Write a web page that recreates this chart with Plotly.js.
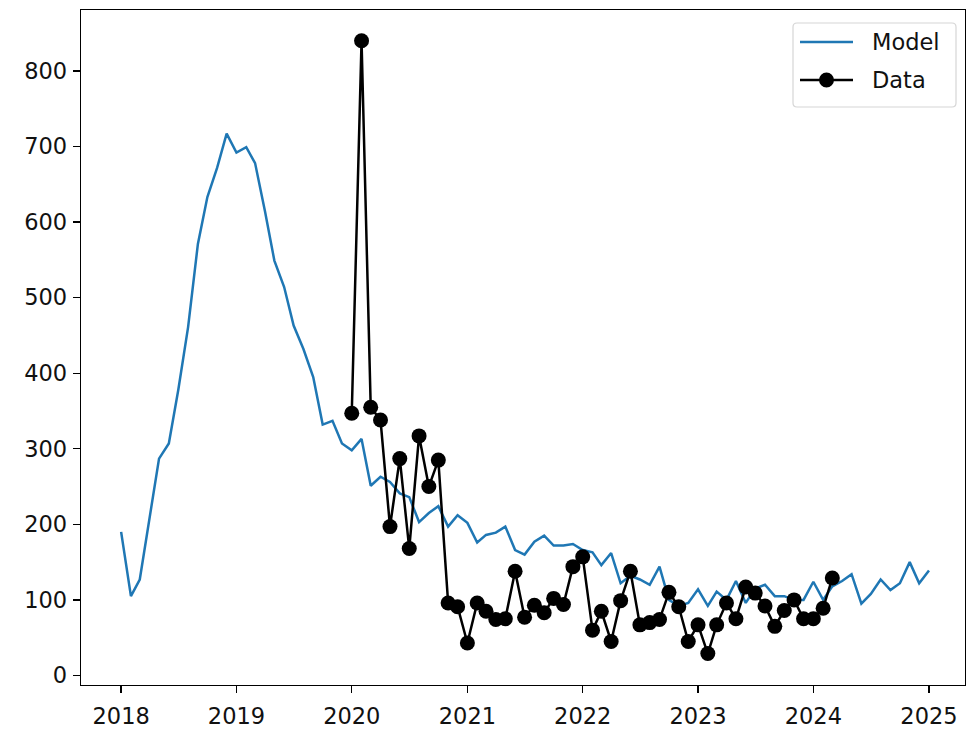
<!DOCTYPE html>
<html>
<head>
<meta charset="utf-8">
<script src="https://cdn.plot.ly/plotly-3.0.1.min.js"></script>
<style>
  html, body { margin: 0; padding: 0; background: #fff; }
  #chart { width: 966px; height: 735px; }
</style>
</head>
<body>
<div id="chart"></div>
<script>
// Monthly model output, starting January 2018
const modelStart = [2018, 1];
const modelValues = [
  190, 105, 127, 207, 287, 307, 378, 461, 571, 633, 672, 717,
  692, 699, 678, 615, 549, 514, 463, 432, 395, 332, 337, 307,
  298, 313, 251, 263, 256, 241, 236, 203, 215, 224, 197, 212,
  202, 176, 186, 189, 197, 166, 160, 177, 185, 172, 172, 174,
  166, 163, 146, 162, 122, 132, 127, 120, 144, 100, 92, 96,
  114, 92, 111, 100, 125, 96, 115, 120, 105, 105, 100, 100,
  124, 100, 118, 125, 134, 95, 108, 127, 113, 122, 150, 122,
  139
];

// Monthly observations, starting January 2020
const dataStart = [2020, 1];
const dataValues = [
  347, 840, 355, 338, 197, 287, 168, 317, 250, 285, 96, 91,
  43, 96, 85, 74, 75, 138, 77, 93, 83, 102, 94, 144,
  157, 60, 85, 45, 99, 138, 67, 70, 74, 110, 91, 45,
  67, 29, 67, 96, 75, 117, 109, 92, 65, 86, 100, 75,
  75, 89, 129
];

const yearTicks = ['2018', '2019', '2020', '2021', '2022', '2023', '2024', '2025'];
const yTicks = [0, 100, 200, 300, 400, 500, 600, 700, 800];
const seriesNames = ['Model', 'Data'];

function monthDates(start, n) {
  const out = [];
  for (let i = 0; i < n; i++) {
    const m = start[1] - 1 + i;
    const y = start[0] + Math.floor(m / 12);
    const mm = (m % 12) + 1;
    out.push(y + '-' + String(mm).padStart(2, '0') + '-01');
  }
  return out;
}

const W = 966, H = 735;
const M = { l: 81, r: 1, t: 10, b: 50 };
const plotW = W - M.l - M.r, plotH = H - M.t - M.b;
const px = x => (x - M.l) / plotW;          // page x -> paper x
const py = y => (H - M.b - y) / plotH;      // page y -> paper y

const FONT = 'DejaVu Sans, sans-serif';
const BLUE = '#1f77b4';

const traces = [
  {
    x: monthDates(modelStart, modelValues.length),
    y: modelValues,
    name: seriesNames[0],
    type: 'scatter',
    mode: 'lines',
    line: { color: BLUE, width: 2.5 },
    hoverinfo: 'skip'
  },
  {
    x: monthDates(dataStart, dataValues.length),
    y: dataValues,
    name: seriesNames[1],
    type: 'scatter',
    mode: 'lines+markers',
    line: { color: '#000', width: 2.5 },
    marker: { color: '#000', size: 15 },
    hoverinfo: 'skip'
  }
];

// Legend box drawn with a rounded frame, sample lines and labels
function roundedRect(x0, y0, x1, y1, r) {
  const X0 = px(x0), X1 = px(x1), Y0 = py(y0), Y1 = py(y1);
  const rx = r / plotW, ry = r / plotH;
  return 'M ' + (X0 + rx) + ' ' + Y0 +
    ' L ' + (X1 - rx) + ' ' + Y0 + ' Q ' + X1 + ' ' + Y0 + ' ' + X1 + ' ' + (Y0 - ry) +
    ' L ' + X1 + ' ' + (Y1 + ry) + ' Q ' + X1 + ' ' + Y1 + ' ' + (X1 - rx) + ' ' + Y1 +
    ' L ' + (X0 + rx) + ' ' + Y1 + ' Q ' + X0 + ' ' + Y1 + ' ' + X0 + ' ' + (Y1 + ry) +
    ' L ' + X0 + ' ' + (Y0 - ry) + ' Q ' + X0 + ' ' + Y0 + ' ' + (X0 + rx) + ' ' + Y0 + ' Z';
}

const legendRows = [
  { y: 42, color: BLUE, marker: false, label: seriesNames[0] },
  { y: 80, color: '#000', marker: true, label: seriesNames[1] }
];

const shapes = [
  {
    type: 'path', xref: 'paper', yref: 'paper',
    path: roundedRect(793, 23, 956, 107, 4),
    line: { color: '#d6d6d6', width: 1.2 },
    fillcolor: 'rgba(255,255,255,0.85)'
  }
];
const annotations = [];
legendRows.forEach(row => {
  shapes.push({
    type: 'line', xref: 'paper', yref: 'paper',
    x0: px(800), x1: px(853), y0: py(row.y), y1: py(row.y),
    line: { color: row.color, width: 2.5 }
  });
  if (row.marker) {
    shapes.push({
      type: 'circle', xref: 'paper', yref: 'paper',
      x0: px(819), x1: px(834), y0: py(row.y - 7.5), y1: py(row.y + 7.5),
      line: { color: '#000', width: 0 }, fillcolor: '#000'
    });
  }
  annotations.push({
    xref: 'paper', yref: 'paper', x: px(870), y: py(row.y),
    xanchor: 'left', yanchor: 'middle', showarrow: false,
    text: row.label, font: { family: FONT, size: 22.5, color: '#111' }
  });
});

const axisCommon = {
  showgrid: false, zeroline: false,
  showline: true, linecolor: '#000', linewidth: 1.3, mirror: true,
  ticks: 'outside', ticklen: 7, tickwidth: 1.3, tickcolor: '#000',
  tickfont: { family: FONT, size: 22.5, color: '#111' }
};

const layout = {
  width: W, height: H, autosize: false,
  margin: M,
  paper_bgcolor: '#fff', plot_bgcolor: '#fff',
  showlegend: false,
  xaxis: Object.assign({}, axisCommon, {
    type: 'date',
    range: ['2017-08-27', '2025-04-25'],
    tickmode: 'array',
    tickvals: yearTicks.map(y => y + '-01-01'),
    ticktext: yearTicks,
    ticklabelstandoff: 4
  }),
  yaxis: Object.assign({}, axisCommon, {
    range: [-12.6, 880.6],
    tickmode: 'array',
    tickvals: yTicks,
    ticktext: yTicks.map(String),
    ticklabelstandoff: 1
  }),
  shapes: shapes,
  annotations: annotations
};

Plotly.newPlot('chart', traces, layout, { displayModeBar: false, staticPlot: true });
</script>
</body>
</html>
